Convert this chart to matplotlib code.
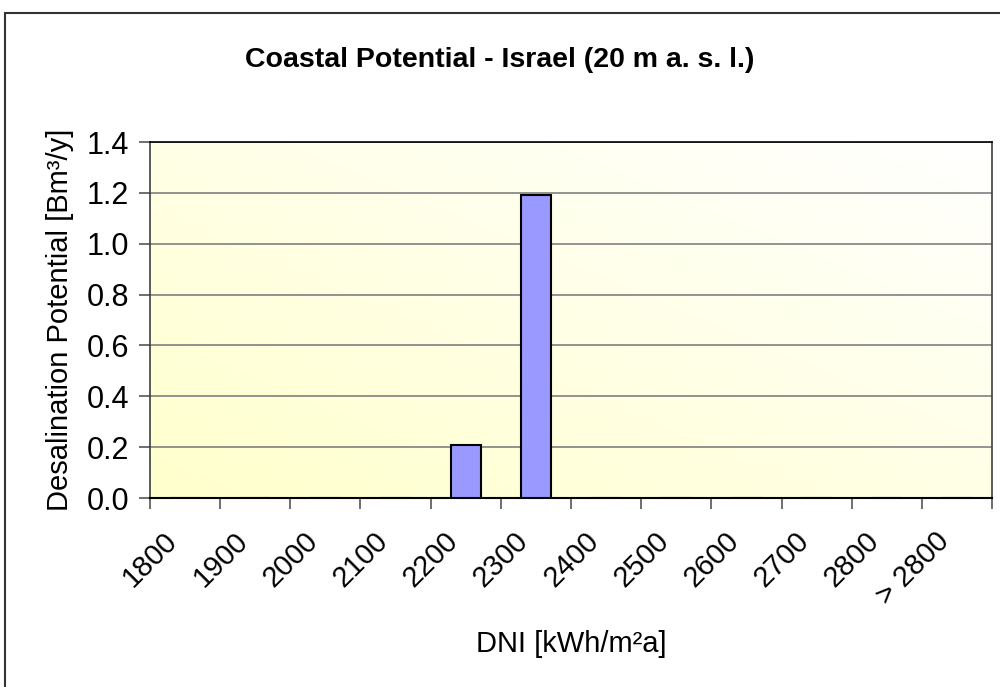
import matplotlib
matplotlib.use("Agg")
import matplotlib.pyplot as plt
import matplotlib.transforms as mtransforms
import numpy as np
from matplotlib.colors import LinearSegmentedColormap
from matplotlib.patches import Rectangle

plt.rcParams["font.family"] = ["Liberation Sans", "DejaVu Sans"]

categories = ["1800", "1900", "2000", "2100", "2200", "2300",
              "2400", "2500", "2600", "2700", "2800", "> 2800"]
potential = [0.0, 0.0, 0.0, 0.0, 0.21, 1.19, 0.0, 0.0, 0.0, 0.0, 0.0, 0.0]
y_ticks = [0.0, 0.2, 0.4, 0.6, 0.8, 1.0, 1.2, 1.4]

fig = plt.figure(figsize=(10, 6.87), dpi=100)
ax = fig.add_axes([0.150, 1 - 498 / 687, 0.842, (498 - 142) / 687])

# gradient plot area: light yellow bottom-left -> white top-right
cmap = LinearSegmentedColormap.from_list("bg", ["#ffffcc", "#ffffe6", "#ffffff"])
gx, gy = np.meshgrid(np.linspace(0, 1, 200), np.linspace(0, 1, 200))
ax.imshow((gx + gy) / 2, cmap=cmap, extent=[0, 1, 0, 1], origin="lower",
          transform=ax.transAxes, aspect="auto", zorder=0)

x = np.arange(len(categories))
ax.bar(x, potential, width=0.43, color="#9999ff", edgecolor="black",
       linewidth=1.5, zorder=3)

ax.set_xlim(-0.5, len(categories) - 0.5)
ax.set_ylim(0, 1.4)
ax.set_yticks(y_ticks)
ax.set_yticklabels([f"{v:.1f}" for v in y_ticks], fontsize=22)
ax.yaxis.grid(True, color="#808080", linewidth=1.2, zorder=1)
ax.set_axisbelow(True)

# ticks at category boundaries, labels at centres
ax.set_xticks(np.arange(-0.5, len(categories), 1.0))
ax.set_xticklabels([])
ax.set_xticks(x, minor=True)
ax.set_xticklabels(categories, minor=True, fontsize=21, rotation=45,
                   ha="right", va="center", rotation_mode="anchor")
ax.tick_params(axis="x", which="minor", length=0, pad=28)
ax.tick_params(axis="both", which="major", direction="out", length=8,
               color="#555555", width=1.2)
ax.tick_params(axis="y", pad=7)
shift = mtransforms.ScaledTranslation(-12 / 100, 0, fig.dpi_scale_trans)
for lab in ax.get_xticklabels(minor=True):
    lab.set_transform(lab.get_transform() + shift)

for side in ["left", "right", "top"]:
    ax.spines[side].set_color("#404040")
    ax.spines[side].set_linewidth(1.2)
ax.spines["top"].set_color("black")
ax.spines["bottom"].set_color("black")
ax.spines["bottom"].set_linewidth(1.5)

ax.set_ylabel("Desalination Potential [Bm³/y]", fontsize=21, labelpad=9)
ax.set_xlabel("DNI [kWh/m²a]", fontsize=21, labelpad=14)
fig.text(0.5, 1 - 60 / 687, "Coastal Potential - Israel (20 m a. s. l.)",
         ha="center", va="center", fontsize=20.5, fontweight="bold")

# chart border (right and bottom edges fall outside the image)
fig.patches.append(Rectangle((5 / 1000, -10 / 687), 1.02, 684 / 687,
                             transform=fig.transFigure, fill=False,
                             edgecolor="#333333", linewidth=1.5))

fig.savefig("out.png", dpi=100)
